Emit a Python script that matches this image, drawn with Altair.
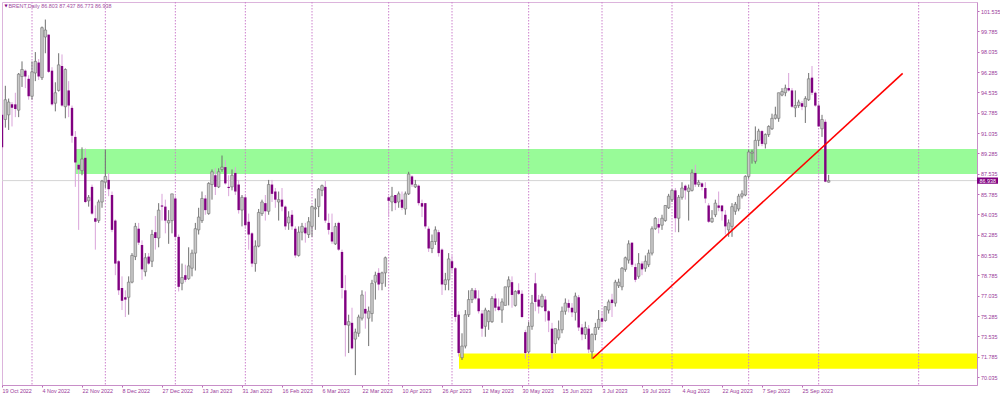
import altair as alt
import pandas as pd

# ---------------- data ----------------
opens = [
    92.6, 92.2, 92.6, 93.5, 93.5, 93.0, 95.9, 96.4, 95.7, 94.2,
    96.2, 97.1, 95.8, 99.3, 99.5, 96.4, 93.6, 94.7, 96.8, 93.3,
    94.7, 93.2, 90.7, 88.3, 87.8, 88.9, 85.2, 86.4, 83.7, 83.5,
    85.1, 86.8, 87.0, 85.7, 83.5, 80.0, 77.7, 76.9, 76.9, 78.2,
    80.4, 82.8, 81.4, 79.1, 80.4, 80.0, 82.5, 82.0, 84.8, 84.7,
    83.3, 83.5, 85.4, 82.1, 78.1, 78.8, 78.5, 79.4, 80.7, 82.7,
    83.5, 85.4, 84.1, 86.6, 87.4, 86.4, 87.9, 88.1, 86.4, 86.4,
    87.6, 86.6, 84.4, 85.5, 83.4, 82.4, 79.8, 81.3, 84.1, 85.0,
    84.3, 86.6, 86.0, 85.1, 85.3, 84.7, 83.3, 84.0, 82.8, 80.5,
    82.5, 82.9, 82.3, 83.0, 84.5, 84.7, 86.1, 86.4, 83.3, 82.5,
    81.5, 83.3, 80.8, 77.5, 74.5, 74.7, 73.3, 73.8, 75.1, 75.9,
    75.1, 75.5, 78.2, 79.0, 78.1, 79.0, 85.5, 85.1, 85.7, 85.1,
    85.3, 84.5, 85.8, 87.3, 86.4, 86.5, 85.0, 85.0, 82.8, 81.1,
    81.7, 82.5, 81.0, 78.0, 78.4, 80.0, 79.4, 75.4, 71.7, 72.7,
    75.4, 76.7, 77.5, 76.8, 75.5, 74.4, 74.8, 74.8, 76.8, 76.1,
    75.8, 76.2, 77.8, 78.2, 76.2, 77.5, 77.2, 73.9, 72.2, 74.4,
    78.1, 76.7, 76.1, 76.7, 75.7, 74.2, 72.9, 73.4, 74.1, 75.7,
    76.4, 76.0, 75.6, 76.9, 74.3, 73.7, 74.2, 72.2, 73.7, 74.3,
    75.1, 74.9, 75.8, 76.7, 76.4, 77.9, 77.8, 79.3, 80.1, 81.6,
    79.5, 78.7, 79.8, 79.4, 79.7, 80.7, 82.8, 83.2, 83.1, 83.5,
    84.6, 85.3, 86.1, 83.7, 85.5, 86.5, 86.0, 86.1, 87.6, 86.6,
    86.7, 86.3, 84.8, 83.4, 84.0, 84.8, 84.8, 84.0, 82.7, 83.0,
    84.3, 84.5, 85.6, 85.7, 87.3, 89.3, 88.6, 90.4, 91.2, 90.1,
    90.9, 91.4, 92.3, 92.3, 94.3, 94.5, 94.9, 94.7, 93.2, 93.4,
    93.6, 93.3, 93.9, 95.8, 94.5, 93.4, 91.4, 92.0, 86.803,
]
highs = [
    93.0, 95.1, 94.0, 93.7, 94.5, 96.2, 97.2, 96.5, 96.0, 97.2,
    98.0, 97.4, 100.2, 100.8, 99.5, 96.7, 95.4, 97.9, 97.8, 96.6,
    95.5, 93.4, 91.2, 88.4, 89.8, 89.7, 85.7, 86.6, 84.8, 85.3,
    87.0, 89.6, 87.6, 86.0, 83.6, 80.1, 78.7, 77.5, 78.7, 80.7,
    83.3, 83.3, 81.8, 80.7, 80.7, 82.7, 83.9, 85.0, 85.8, 85.3,
    84.4, 85.8, 85.6, 82.3, 79.8, 79.7, 81.2, 81.0, 83.3, 84.6,
    86.0, 85.7, 86.8, 87.9, 88.0, 88.0, 89.1, 88.7, 87.4, 87.9,
    88.1, 87.0, 85.7, 85.7, 84.1, 82.5, 81.8, 84.5, 85.3, 85.7,
    87.0, 87.0, 86.3, 86.0, 86.3, 84.8, 84.3, 84.4, 83.0, 83.0,
    83.3, 83.3, 83.8, 84.8, 85.4, 86.3, 86.6, 86.9, 84.1, 84.1,
    83.3, 83.4, 81.0, 78.8, 75.4, 76.0, 74.2, 75.4, 77.5, 77.4,
    76.1, 78.4, 79.1, 79.4, 79.1, 80.4, 85.6, 86.4, 85.7, 86.0,
    86.0, 86.0, 87.7, 87.4, 87.0, 86.6, 85.3, 85.0, 83.0, 82.3,
    83.0, 82.7, 81.1, 79.0, 80.7, 80.5, 79.5, 75.7, 73.8, 75.8,
    77.5, 77.7, 77.7, 77.5, 75.8, 76.0, 75.8, 77.0, 77.2, 76.8,
    76.8, 77.8, 78.7, 78.7, 77.5, 78.1, 77.5, 74.1, 74.8, 77.1,
    79.0, 77.1, 77.2, 77.0, 75.8, 74.7, 74.2, 74.9, 76.1, 76.8,
    76.7, 76.4, 77.3, 77.1, 74.6, 74.8, 74.5, 73.8, 74.7, 75.8,
    75.7, 76.1, 76.7, 77.2, 78.4, 78.5, 79.5, 80.4, 81.8, 81.6,
    79.8, 80.7, 80.0, 80.5, 81.0, 83.0, 83.8, 83.7, 84.0, 84.8,
    85.8, 86.2, 86.3, 85.7, 86.8, 86.6, 86.6, 87.9, 88.3, 87.0,
    86.8, 86.8, 85.0, 84.4, 85.3, 86.0, 84.8, 84.4, 83.6, 85.0,
    85.1, 85.8, 86.1, 87.4, 89.6, 89.6, 91.6, 91.4, 91.3, 91.0,
    91.7, 92.7, 93.3, 94.5, 94.9, 95.2, 96.2, 94.9, 94.7, 93.9,
    93.8, 94.2, 96.2, 96.8, 94.6, 93.6, 92.6, 92.2, 87.437,
]
lows = [
    89.6, 91.5, 91.3, 91.6, 92.4, 92.4, 95.0, 94.9, 93.9, 93.9,
    95.5, 95.6, 95.6, 97.9, 96.2, 93.4, 92.9, 94.6, 93.3, 92.3,
    92.4, 90.2, 86.4, 82.7, 87.4, 85.0, 84.7, 84.0, 81.0, 83.3,
    84.6, 86.3, 85.6, 82.5, 78.8, 77.1, 75.8, 75.2, 75.4, 78.1,
    80.1, 81.4, 78.4, 78.7, 79.7, 79.5, 81.0, 81.2, 83.5, 82.4,
    81.5, 82.4, 81.8, 77.4, 77.5, 78.2, 78.4, 78.7, 79.2, 82.3,
    83.3, 84.0, 84.0, 85.3, 85.7, 86.3, 87.7, 86.6, 85.6, 86.1,
    85.7, 84.1, 83.0, 82.8, 81.0, 79.5, 79.1, 81.2, 83.9, 83.5,
    84.0, 85.1, 84.6, 83.5, 84.3, 82.7, 82.7, 82.7, 80.3, 80.4,
    81.8, 81.6, 82.0, 82.1, 82.7, 83.8, 85.6, 83.3, 82.3, 81.5,
    81.4, 80.9, 76.8, 71.8, 72.1, 72.4, 70.2, 73.5, 74.9, 74.2,
    72.7, 74.8, 76.7, 77.5, 77.5, 77.8, 83.8, 84.3, 84.4, 84.6,
    84.4, 84.0, 85.7, 86.4, 86.3, 84.8, 83.8, 82.8, 80.8, 80.7,
    81.4, 80.4, 77.1, 77.5, 77.5, 79.0, 74.8, 71.8, 71.5, 72.5,
    75.2, 76.4, 76.7, 75.5, 73.5, 73.5, 74.1, 74.7, 75.7, 75.7,
    74.7, 76.2, 76.2, 76.0, 76.1, 77.1, 75.1, 71.6, 72.1, 74.1,
    75.7, 75.5, 76.0, 74.8, 73.9, 71.6, 72.1, 73.2, 73.8, 75.4,
    75.6, 75.2, 74.9, 74.0, 73.2, 73.3, 72.1, 71.6, 73.2, 74.1,
    74.4, 74.8, 75.5, 75.2, 76.1, 77.7, 77.5, 79.1, 79.8, 79.5,
    78.2, 78.5, 78.8, 79.1, 79.5, 80.5, 82.7, 82.4, 82.7, 83.4,
    84.5, 85.1, 82.5, 82.5, 85.3, 85.3, 83.5, 86.0, 86.4, 86.4,
    86.1, 85.0, 83.3, 83.3, 83.8, 84.3, 83.5, 82.3, 82.1, 82.1,
    84.0, 84.3, 85.4, 85.6, 87.1, 88.4, 88.4, 89.9, 89.9, 89.7,
    90.7, 91.3, 92.2, 92.0, 94.2, 94.2, 94.6, 93.2, 92.4, 93.2,
    93.0, 91.9, 93.8, 94.3, 93.3, 91.6, 90.7, 86.8, 86.773,
]
closes = [
    89.8, 93.9, 93.7, 93.2, 93.1, 96.1, 96.5, 95.9, 94.2, 96.3,
    97.2, 95.9, 100.1, 99.9, 96.3, 93.5, 94.5, 96.9, 93.4, 96.5,
    93.4, 90.8, 88.5, 87.9, 88.8, 85.1, 85.5, 84.1, 83.4, 85.1,
    86.9, 87.3, 86.2, 82.7, 79.8, 77.5, 76.6, 76.7, 78.2, 80.5,
    83.0, 81.6, 79.3, 80.3, 79.8, 82.3, 82.0, 84.4, 84.7, 83.5,
    83.5, 85.8, 82.1, 77.8, 78.6, 78.4, 79.6, 80.7, 82.8, 83.8,
    85.4, 84.4, 86.7, 87.7, 86.4, 87.7, 88.1, 86.7, 86.3, 87.4,
    86.0, 84.4, 85.5, 83.1, 82.3, 79.8, 81.3, 84.2, 85.1, 84.3,
    86.6, 85.8, 85.3, 85.3, 84.7, 83.0, 83.8, 83.0, 80.5, 82.5,
    83.0, 82.4, 83.4, 84.7, 84.6, 86.2, 86.5, 83.5, 82.7, 81.7,
    83.0, 81.0, 77.7, 74.5, 74.8, 72.5, 73.9, 75.2, 77.1, 75.5,
    75.7, 78.1, 78.8, 78.0, 79.0, 80.3, 85.2, 85.6, 85.0, 85.8,
    84.6, 85.8, 87.5, 86.6, 86.6, 85.0, 84.7, 83.0, 81.1, 81.7,
    82.7, 80.7, 78.0, 78.4, 80.2, 79.4, 75.2, 72.1, 72.7, 75.4,
    76.7, 77.5, 76.8, 75.7, 74.2, 75.8, 75.7, 76.8, 76.0, 75.8,
    76.5, 77.8, 78.4, 77.1, 77.4, 77.2, 75.2, 72.1, 74.4, 76.4,
    76.5, 76.1, 77.0, 75.7, 74.9, 72.1, 74.2, 74.1, 75.7, 76.4,
    76.0, 75.6, 77.0, 74.3, 73.7, 74.3, 72.4, 73.7, 74.3, 75.0,
    74.8, 76.1, 76.5, 76.4, 78.2, 78.2, 79.4, 80.3, 81.5, 79.7,
    78.4, 79.8, 79.3, 80.0, 80.7, 82.8, 83.7, 82.9, 83.7, 84.8,
    85.6, 86.1, 83.7, 85.5, 86.3, 86.1, 86.3, 87.6, 86.6, 86.8,
    86.4, 85.4, 83.4, 83.7, 85.0, 84.6, 84.3, 83.0, 83.3, 84.7,
    84.9, 85.6, 85.8, 87.3, 89.4, 89.4, 90.4, 91.2, 90.1, 90.9,
    91.6, 92.3, 92.6, 94.5, 94.6, 94.9, 94.7, 93.3, 93.4, 93.7,
    93.3, 94.0, 95.7, 94.5, 93.4, 91.6, 92.2, 86.85, 86.938,
]

date_labels = [
    "19 Oct 2022", "4 Nov 2022", "22 Nov 2022", "8 Dec 2022", "27 Dec 2022",
    "13 Jan 2023", "31 Jan 2023", "16 Feb 2023", "6 Mar 2023", "22 Mar 2023",
    "10 Apr 2023", "26 Apr 2023", "12 May 2023", "30 May 2023", "15 Jun 2023",
    "3 Jul 2023", "19 Jul 2023", "4 Aug 2023", "22 Aug 2023", "7 Sep 2023",
    "25 Sep 2023",
]
label_bars = [0, 12, 24, 36, 48, 60, 72, 84, 96, 108, 120, 132, 144, 156, 168,
              180, 192, 204, 216, 228, 240]
price_ticks = [70.035, 71.785, 73.535, 75.285, 77.035, 78.785, 80.535, 82.285,
               84.035, 85.785, 87.535, 89.285, 91.035, 92.785, 94.535, 96.285,
               98.035, 99.785, 101.535]
separator_bars = [9, 31, 52, 73, 93, 116, 135, 158, 180, 201, 224, 245, 275]

zone_start = [21.9, 137.1]
zone_low = [87.5, 70.75]
zone_high = [89.66, 72.07]
zone_color = ["#98fb98", "#ffff00"]

trend_bar = [177.2, 270.2]
trend_price = [71.63, 96.17]

X_MAX = 292.5
Y_MIN, Y_MAX = 69.35, 102.31

# ---------------- frames ----------------
rows = []
for i, (o, h, l, c) in enumerate(zip(opens, highs, lows, closes)):
    lo_b, hi_b = min(o, c), max(o, c)
    if hi_b - lo_b < 0.07:
        hi_b = lo_b + 0.07
    rows.append(dict(bar=i, o=o, c=c, hi=max(h, o, c), lo=min(l, o, c),
                     btop=hi_b, bbot=lo_b, dir="up" if c >= o else "down"))
df = pd.DataFrame(rows)

zones = pd.DataFrame(dict(x0=zone_start, x1=[X_MAX] * 2, lo=zone_low,
                          hi=zone_high, col=zone_color))
seps = pd.DataFrame(dict(bar=separator_bars))
trend = pd.DataFrame(dict(bar=[trend_bar[0]], bar2=[trend_bar[1]],
                          p=[trend_price[0]], p2=[trend_price[1]]))
last = closes[-1]
lastdf = pd.DataFrame(dict(p=[last], ptop=[last + 0.27], pbot=[last - 0.27],
                           txt=[f"{last:.3f}"]))

FONT = "Liberation Sans"
PURPLE_TXT = "#9a3a9a"

xscale = alt.Scale(domain=[0, X_MAX], nice=False, zero=False, padding=0)
yscale = alt.Scale(domain=[Y_MIN, Y_MAX], nice=False, zero=False, padding=0)

label_js = "[" + ",".join(f"'{d}'" for d in date_labels) + "]"
xaxis = alt.Axis(values=label_bars,
                 labelExpr=f"{label_js}[round(datum.value/12)]",
                 labelAlign="left", labelBaseline="top", labelPadding=1,
                 tickSize=2, tickColor="#b868b8", domainColor="#c88ec8",
                 labelColor=PURPLE_TXT, labelFontSize=5.4, labelFont=FONT,
                 grid=False, title=None, labelOverlap=False, labelFlush=False)
yaxis = alt.Axis(orient="right", values=price_ticks, format=".3f",
                 labelAlign="left", labelBaseline="middle", labelPadding=1.5,
                 tickSize=2, tickColor="#b868b8", domainColor="#c88ec8",
                 labelColor=PURPLE_TXT, labelFontSize=5.4, labelFont=FONT,
                 grid=False, title=None, labelOverlap=False, labelFlush=False)


def X(field):
    return alt.X(field, type="quantitative", scale=xscale, axis=xaxis)


def Y(field):
    return alt.Y(field, type="quantitative", scale=yscale, axis=yaxis)


zone_layer = alt.Chart(zones).mark_rect(clip=True).encode(
    x=X("x0"), x2="x1", y=Y("lo"), y2="hi",
    color=alt.Color("col:N", scale=None))

price_line = alt.Chart(lastdf).mark_rule(color="#d4d4d4", strokeWidth=1).encode(
    y=Y("p"))

sep_layer = alt.Chart(seps).mark_rule(
    color="#cc80cc", strokeWidth=1, strokeDash=[1.5, 1.5], clip=True).encode(x=X("bar"))

up = df[df.dir == "up"]
down = df[df.dir == "down"]

wick_up = alt.Chart(up).mark_rule(color="#6f6f6f", strokeWidth=1, clip=True).encode(
    x=X("bar"), y=Y("lo"), y2="hi")
wick_down = alt.Chart(down).mark_rule(color="#d9a3d9", strokeWidth=1, clip=True).encode(
    x=X("bar"), y=Y("lo"), y2="hi")
body_up = alt.Chart(up).mark_bar(size=2.6, fill="#c9c9c9", stroke="#6f6f6f",
                                 strokeWidth=0.6, clip=True).encode(
    x=X("bar"), y=Y("bbot"), y2="btop")
body_down = alt.Chart(down).mark_bar(size=2.4, fill="#800080", clip=True).encode(
    x=X("bar"), y=Y("bbot"), y2="btop")

trend_layer = alt.Chart(trend).mark_rule(color="#ff0000", strokeWidth=1.6).encode(
    x=X("bar"), x2="bar2", y=Y("p"), y2="p2")

tag_rect = alt.Chart(lastdf).mark_rect(color="#800080").encode(
    x=alt.value(975), x2=alt.value(996), y=Y("ptop"), y2="pbot")
tag_text = alt.Chart(lastdf).mark_text(
    align="left", baseline="middle", color="white", fontSize=5.4, font=FONT,
    dx=0).encode(x=alt.value(977.5), y=Y("p"), text="txt:N")

title_df = pd.DataFrame(dict(
    t=[f"BRENT,Daily  {opens[-1]:.3f} {highs[-1]:.3f} {lows[-1]:.3f} {closes[-1]:.3f}"]))
tri = alt.Chart(title_df).mark_text(
    text="▼", align="left", baseline="middle", color="#800080", fontSize=4,
    font="DejaVu Sans").encode(x=alt.value(2.5), y=alt.value(4))
title_txt = alt.Chart(title_df).mark_text(
    align="left", baseline="middle", color="#a04ca0", fontSize=5.4,
    font=FONT).encode(x=alt.value(6.5), y=alt.value(4), text="t:N")

chart = alt.layer(
    zone_layer, price_line, sep_layer, wick_up, wick_down, body_up, body_down,
    trend_layer, tag_rect, tag_text, tri, title_txt
).properties(
    width=975, height=383,
    padding={"left": 2, "top": 2, "right": 23, "bottom": 10},
    autosize=alt.AutoSizeParams(type="none"),
    background="white",
).configure_view(stroke="#dcb4dc", strokeWidth=1)

chart.save("out.html", embed_options={"renderer": "svg", "actions": False})
